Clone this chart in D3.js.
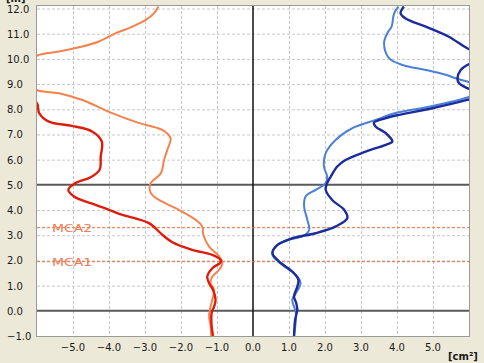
<!DOCTYPE html>
<html>
<head>
<meta charset="utf-8">
<script src="https://cdn.jsdelivr.net/npm/d3@7"></script>
<style>
  html, body { margin: 0; padding: 0; background: #ece9d8; }
  svg { display: block; }
  text { font-family: "DejaVu Sans", Verdana, sans-serif; }
</style>
</head>
<body>
<script>
// [area cm², depth] pairs, read bottom to top
const redCurve = [[-1.11,-1.0],[-1.15,-0.6],[-1.15,-0.09],[-1.08,0.17],[-1.04,0.44],[-1.11,0.83],[-1.22,1.1],[-1.27,1.36],[-1.13,1.69],[-0.9,1.92],
  [-0.9,2.02],[-1.13,2.22],[-1.69,2.42],[-2.24,2.72],[-2.52,3.02],[-2.89,3.48],[-3.72,3.85],[-4.05,4.04],[-4.51,4.27],[-4.97,4.54],
  [-5.13,4.8],[-4.93,5.07],[-4.51,5.3],[-4.26,5.6],[-4.23,6.12],[-4.2,6.72],[-4.47,7.12],[-5.03,7.34],[-5.67,7.51],[-5.94,7.85],[-6.0,8.24],[-6.3,8.5]];

const orangeCurve = [[-1.16,-1.0],[-1.18,-0.6],[-1.22,-0.23],[-1.18,0.17],[-1.13,0.44],[-1.08,0.83],[-1.18,1.1],[-1.13,1.36],[-0.94,1.63],[-0.85,1.89],
  [-0.94,2.16],[-1.22,2.55],[-1.38,3.02],[-1.41,3.35],[-1.59,3.61],[-2.06,4.01],[-2.61,4.4],[-2.8,4.6],[-2.87,4.8],[-2.84,5.07],
  [-2.56,5.46],[-2.47,5.99],[-2.38,6.39],[-2.29,6.85],[-2.52,7.18],[-3.2,7.47],[-4.0,7.9],[-4.74,8.37],[-5.39,8.64],[-6.02,8.77],
  [-6.6,9.4],[-6.02,10.12],[-5.39,10.29],[-4.74,10.49],[-4.28,10.69],[-3.81,11.02],[-3.35,11.28],[-2.98,11.55],[-2.75,11.81],[-2.63,12.08]];

const darkBlueCurve = [[1.14,-1.0],[1.17,-0.36],[1.23,0.04],[1.2,0.31],[1.14,0.57],[1.23,0.96],[1.26,1.23],[1.09,1.56],[0.72,1.96],[0.54,2.29],
  [0.68,2.62],[1.09,2.88],[1.74,3.08],[2.3,3.35],[2.62,3.68],[2.53,4.01],[2.2,4.4],[2.02,4.8],[2.06,5.07],[2.16,5.33],
  [2.34,5.73],[2.57,5.99],[3.13,6.32],[3.69,6.59],[3.87,6.72],[3.69,7.05],[3.41,7.31],[3.36,7.47],[3.69,7.65],[4.06,7.78],
  [4.98,8.04],[5.95,8.37],[6.5,8.6],[5.95,8.84],[5.72,9.04],[5.68,9.23],[5.77,9.56],[5.95,9.76],[6.5,10.05],[5.95,10.42],
  [5.44,10.88],[4.8,11.28],[4.24,11.6],[4.1,11.81],[4.19,12.08]];

const lightBlueCurve = [[1.14,-1.0],[1.19,-0.09],[1.09,0.44],[1.19,0.7],[1.32,1.1],[1.19,1.43],[0.81,1.83],[0.54,2.22],[0.63,2.55],[1.0,2.82],
  [1.37,2.95],[1.56,3.21],[1.51,3.61],[1.42,4.14],[1.46,4.54],[1.74,4.8],[2.02,5.07],[2.06,5.33],[1.97,5.73],[2.02,6.26],
  [2.3,6.79],[2.76,7.25],[3.41,7.58],[3.96,7.85],[4.89,8.1],[5.95,8.47],[6.5,8.8],[5.95,9.1],[5.63,9.23],[5.35,9.37],
  [4.8,9.56],[4.15,9.76],[3.78,10.03],[3.64,10.62],[3.73,11.02],[3.85,11.28],[3.92,11.81],[4.04,12.08]];

const xTicks = [-5, -4, -3, -2, -1, 0, 1, 2, 3, 4, 5];
const yTicks = [-1, 0, 1, 2, 3, 4, 5, 6, 7, 8, 9, 10, 11, 12];
const markerDepths = [3.3, 1.95];
const markerLabels = ["MCA2", "MCA1"];
const boldDepths = [0, 5];

const width = 484, height = 363;
const plotL = 37, plotR = 469, plotT = 6, plotB = 336;

const x = d3.scaleLinear().domain([-6, 6]).range([plotL, plotR]);
const y = d3.scaleLinear().domain([-1, 12.1]).range([plotB, plotT]);

const svg = d3.select("body").append("svg")
  .attr("width", width)
  .attr("height", height);

svg.append("rect").attr("width", width).attr("height", height).attr("fill", "#ece9d8");

svg.append("defs").append("clipPath").attr("id", "plot")
  .append("rect").attr("x", plotL).attr("y", plotT).attr("width", plotR - plotL).attr("height", plotB - plotT);

svg.append("rect")
  .attr("x", plotL).attr("y", plotT)
  .attr("width", plotR - plotL).attr("height", plotB - plotT)
  .attr("fill", "#fff");

// dashed grid
const grid = svg.append("g").attr("stroke", "#c8c8c8").attr("stroke-dasharray", "3,2").attr("stroke-width", 1);
grid.selectAll("line.gx").data(xTicks.filter(d => d !== 0)).enter().append("line")
  .attr("x1", d => x(d) + 0.5).attr("x2", d => x(d) + 0.5)
  .attr("y1", plotT).attr("y2", plotB);
grid.selectAll("line.gy").data(yTicks.filter(d => !boldDepths.includes(d))).enter().append("line")
  .attr("x1", plotL).attr("x2", plotR)
  .attr("y1", d => y(d) + 0.5).attr("y2", d => y(d) + 0.5);

// heavy reference lines
svg.selectAll("line.bold").data(boldDepths).enter().append("line")
  .attr("x1", plotL).attr("x2", plotR)
  .attr("y1", d => y(d)).attr("y2", d => y(d))
  .attr("stroke", "#5a5a5a").attr("stroke-width", 2);

svg.append("line")
  .attr("x1", x(0)).attr("x2", x(0))
  .attr("y1", plotT).attr("y2", plotB)
  .attr("stroke", "#111").attr("stroke-width", 1.5);

// MCA markers
svg.selectAll("line.mca").data(markerDepths).enter().append("line")
  .attr("x1", plotL).attr("x2", plotR)
  .attr("y1", d => y(d)).attr("y2", d => y(d))
  .attr("stroke", "#f26a44").attr("stroke-width", 1).attr("stroke-dasharray", "3,2");

svg.selectAll("text.mca").data(markerDepths).enter().append("text")
  .attr("x", 52).attr("y", d => y(d) + 4)
  .attr("font-size", 11)
  .attr("textLength", 40).attr("lengthAdjust", "spacingAndGlyphs")
  .attr("fill", "#f07a52")
  .text((d, i) => markerLabels[i]);

// curves
const line = d3.line()
  .x(d => x(d[0]))
  .y(d => y(d[1]))
  .curve(d3.curveCatmullRom.alpha(0.5));

const series = [
  { data: orangeCurve, color: "#f5824e", w: 2 },
  { data: redCurve, color: "#de1c0c", w: 2.4 },
  { data: lightBlueCurve, color: "#4c80d6", w: 2 },
  { data: darkBlueCurve, color: "#1c2c9c", w: 2.4 }
];

svg.append("g").attr("clip-path", "url(#plot)")
  .selectAll("path").data(series).enter().append("path")
  .attr("d", d => line(d.data))
  .attr("fill", "none")
  .attr("stroke", d => d.color)
  .attr("stroke-width", d => d.w)
  .attr("stroke-linejoin", "round");

// frame
svg.append("rect")
  .attr("x", plotL - 0.5).attr("y", plotT - 0.5)
  .attr("width", plotR - plotL + 1).attr("height", plotB - plotT + 1)
  .attr("fill", "none").attr("stroke", "#9a9a9a");

// tick labels
svg.selectAll("text.xt").data(xTicks).enter().append("text")
  .attr("x", d => x(d)).attr("y", 351)
  .attr("text-anchor", "middle")
  .attr("font-size", 10).attr("fill", "#1a1a1a")
  .text(d => d3.format(".1f")(d));

svg.selectAll("text.yt").data(yTicks).enter().append("text")
  .attr("x", 7).attr("y", d => y(d) + 4)
  .attr("font-size", 10).attr("fill", "#1a1a1a")
  .text(d => d3.format(".1f")(d));

svg.append("text")
  .attr("x", 448).attr("y", 360)
  .attr("font-size", 10).attr("font-weight", "bold").attr("fill", "#1a1a1a")
  .text("[cm²]");

svg.append("text")
  .attr("x", 6).attr("y", 2)
  .attr("font-size", 10).attr("font-weight", "bold").attr("fill", "#1a1a1a")
  .text("[m]");
</script>
</body>
</html>
